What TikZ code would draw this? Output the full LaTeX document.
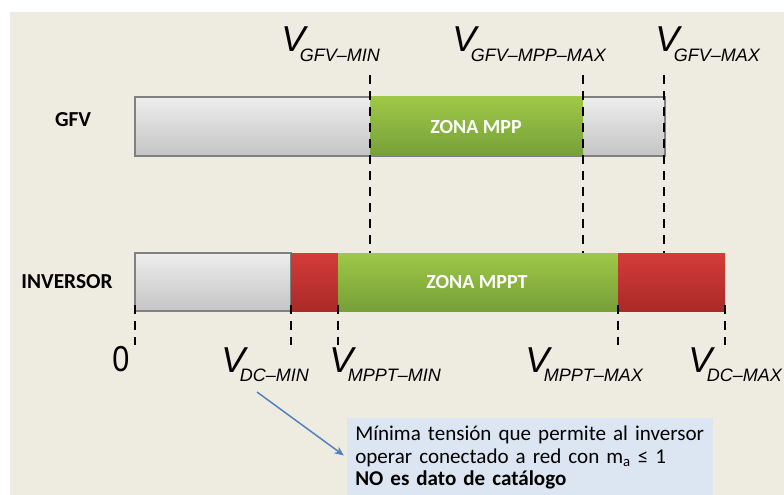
\documentclass[tikz,border=0pt]{standalone}
\usepackage{fontspec}
\setmainfont{Carlito}
\newfontfamily\labelfont{Liberation Sans}
\usetikzlibrary{arrows.meta}
\definecolor{paper}{HTML}{EEEBE1}
\definecolor{barline}{HTML}{808080}
\definecolor{notefill}{HTML}{DCE6F2}
\definecolor{notearrow}{HTML}{4F81BD}
\newcommand{\vlabel}[1]{{\labelfont\itshape\fontsize{27}{27}\selectfont V\kern-4pt\raisebox{-7pt}{\fontsize{13.5}{13.5}\selectfont #1}}}
\begin{document}
\begin{tikzpicture}[x=0.75pt,y=-0.75pt,every node/.style={inner sep=0pt},
  greybar/.style={draw=barline,line width=0.8pt,top color=black!7,bottom color=black!23},
  greenbar/.style={top color={rgb,255:red,158;green,200;blue,70},bottom color={rgb,255:red,118;green,160;blue,56}},
  redbar/.style={top color={rgb,255:red,212;green,60;blue,56},bottom color={rgb,255:red,170;green,42;blue,40}},
  rowlabel/.style={font=\bfseries\fontsize{16}{16}\selectfont},
  zonelabel/.style={font=\bfseries\fontsize{15}{15}\selectfont,text=white},
  guide/.style={line width=1.6pt,dash pattern=on 7pt off 5pt}]
\useasboundingbox (0,0) rectangle (784,495);
\clip (0,0) rectangle (784,495);
\fill[white] (0,0) rectangle (784,495);
\fill[paper] (10,12) rectangle (784,495);
% GFV bar
\coordinate (G0) at (135,97);
\coordinate (G1) at (370,97);
\coordinate (G2) at (583,97);
\coordinate (G3) at (665,156);
\shade[greybar] (G0) rectangle (G3);
\shade[greenbar] (G1) rectangle (583,156);
\node[rowlabel,anchor=base] (gfv) at (73,127) {GFV};
\node[zonelabel,anchor=base] (zmpp) at (476,134) {ZONA MPP};
% inversor bar
\coordinate (I0) at (135,253);
\coordinate (I1) at (291,253);
\coordinate (I2) at (338,253);
\coordinate (I3) at (618,253);
\coordinate (I4) at (725,311);
\shade[greybar] (I0) rectangle (291,311);
\shade[redbar] (I1) rectangle (338,311);
\shade[greenbar] (I2) rectangle (618,311);
\shade[redbar] (I3) rectangle (I4);
\node[rowlabel,anchor=base] (inv) at (67,288) {INVERSOR};
\node[zonelabel,anchor=base] (zmppt) at (477,288) {ZONA MPPT};
% guides
\begin{scope}[guide]
\draw (370,75) -- (370,253);
\draw (583,75) -- (583,253);
\draw (664,75) -- (664,253);
\draw (135,305) -- (135,345);
\draw (291,305) -- (291,345);
\draw (338,305) -- (338,345);
\draw (618,305) -- (618,345);
\draw (725,305) -- (725,345);
\end{scope}
% voltages
\node[anchor=base west] (lgfvmin) at (281,52) {\vlabel{GFV–MIN}};
\node[anchor=base west] (lgfvmppmax) at (452,52) {\vlabel{GFV–MPP–MAX}};
\node[anchor=base west] (lgfvmax) at (655,52) {\vlabel{GFV–MAX}};
\node[anchor=base west,font=\labelfont\fontsize{27}{27}\selectfont] (lzero) at (112,371) {\scalebox{0.85}[1]{0}};
\node[anchor=base west] (ldcmin) at (221,372) {\vlabel{DC–MIN}};
\node[anchor=base west] (lmpptmin) at (329,372) {\vlabel{MPPT–MIN}};
\node[anchor=base west] (lmpptmax) at (525,372) {\vlabel{MPPT–MAX}};
\node[anchor=base west] (ldcmax) at (688,372) {\vlabel{DC–MAX}};
% note
\node[anchor=north west,fill=notefill,inner xsep=6pt,inner ysep=6pt,text width=262pt,align=left,
  font=\fontsize{15.8}{16.8}\selectfont] (note) at (347,418)
  {Mínima tensión que permite al inversor\\operar conectado a red con m\textsubscript{a} ≤ 1\\\textbf{NO es dato de catálogo}};
\coordinate (arrs) at (257,392);
\draw[notearrow,line width=1.1pt,-{Stealth[length=7pt,width=6pt]},shorten >=3pt] (arrs) -- (note.west);
\end{tikzpicture}
\end{document}
